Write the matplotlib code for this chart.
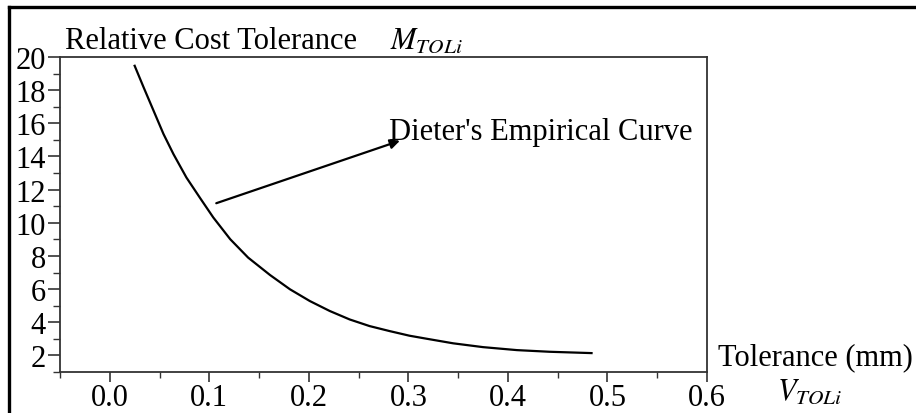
import numpy as np
import matplotlib
matplotlib.use('Agg')
import matplotlib.pyplot as plt
from matplotlib.ticker import MultipleLocator
from matplotlib.lines import Line2D

plt.rcParams['font.family'] = 'Liberation Serif'
plt.rcParams['mathtext.fontset'] = 'stix'

# Dieter's empirical curve: tolerance (mm) vs relative cost
tol = [0.025, 0.034, 0.044, 0.054, 0.064, 0.077, 0.091, 0.104, 0.121,
       0.139, 0.161, 0.181, 0.201, 0.221, 0.241, 0.261, 0.281, 0.301,
       0.318, 0.345, 0.375, 0.409, 0.442, 0.484]
cost = [19.47, 18.17, 16.76, 15.35, 14.14, 12.73, 11.47, 10.32, 9.01,
        7.90, 6.85, 5.99, 5.28, 4.68, 4.17, 3.77, 3.47, 3.19,
        3.01, 2.73, 2.50, 2.32, 2.22, 2.14]

xticks = [0.0, 0.1, 0.2, 0.3, 0.4, 0.5, 0.6]
yticks = [2, 4, 6, 8, 10, 12, 14, 16, 18, 20]

W, H = 916, 414
fig = plt.figure(figsize=(W / 100, H / 100), dpi=100)
ax = fig.add_axes([60 / W, 1 - 373 / H, (707 - 60) / W, (373 - 58) / H])

ax.plot(tol, cost, color='black', lw=1.6, solid_joinstyle='round')

ax.set_xlim(-0.05, 0.6)
ax.set_ylim(1, 20)
ax.set_xticks(xticks)
ax.set_xticklabels(['%.1f' % t for t in xticks])
ax.set_yticks(yticks)
ax.xaxis.set_minor_locator(MultipleLocator(0.05))
ax.yaxis.set_minor_locator(MultipleLocator(1))

for s in ax.spines.values():
    s.set_color('#333333')
    s.set_linewidth(1.3)

ax.tick_params(which='major', direction='out', labelsize=22, color='#333333', width=1.2, pad=1)
ax.tick_params(axis='y', which='major', length=9)
ax.tick_params(axis='x', which='major', length=7)
ax.tick_params(axis='y', which='minor', length=5, width=1.0, color='#333333')
ax.tick_params(axis='x', which='minor', length=4, width=1.0, color='#333333')

# annotation arrow and label
ax.annotate('', xy=(0.2915, 14.95), xytext=(0.107, 11.18),
            arrowprops=dict(arrowstyle='-|>', color='black', lw=1.6,
                            mutation_scale=14, shrinkA=0, shrinkB=0))
ax.text(0.281, 15.5, "Dieter's Empirical Curve", fontsize=22, va='center', ha='left')

# axis captions placed around the frame
fig.text(65 / W, 1 - 49 / H, 'Relative Cost Tolerance', fontsize=22, va='baseline')
fig.text(390 / W, 1 - 49 / H, r'$M_{TOLi}$', fontsize=22, va='baseline')
fig.text(718 / W, 1 - 365 / H, 'Tolerance (mm)', fontsize=22, va='baseline')
fig.text(777 / W, 1 - 400 / H, r'$V_{TOLi}$', fontsize=22, va='baseline')

# outer frame (top and left edges)
fig.add_artist(Line2D([9 / W, 9 / W], [0, 1 - 7.5 / H], transform=fig.transFigure,
                      color='black', lw=2.4))
fig.add_artist(Line2D([9 / W, 1], [1 - 7.5 / H, 1 - 7.5 / H], transform=fig.transFigure,
                      color='black', lw=2.4))

fig.savefig('out.png', dpi=100)
